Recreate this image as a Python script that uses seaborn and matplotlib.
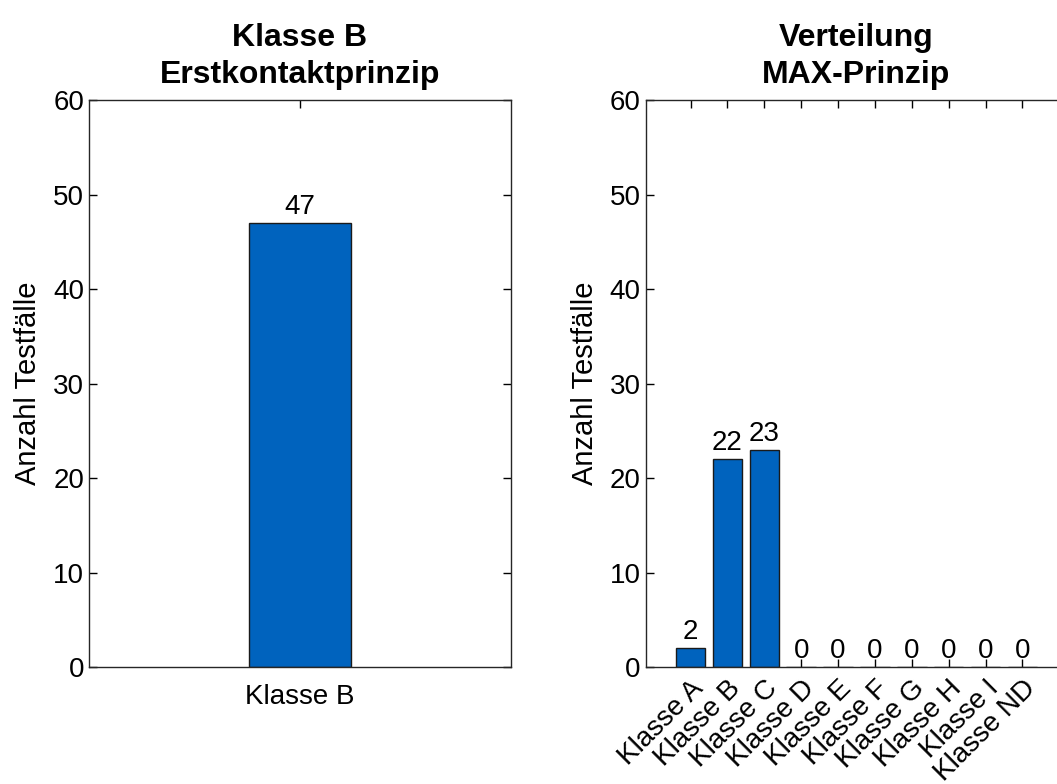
import matplotlib
matplotlib.use("Agg")
import matplotlib.pyplot as plt
import seaborn as sns
import pandas as pd

# Data
left_categories = ["Klasse B"]
left_counts = [47]

right_categories = ["Klasse A", "Klasse B", "Klasse C", "Klasse D", "Klasse E",
                    "Klasse F", "Klasse G", "Klasse H", "Klasse I", "Klasse ND"]
right_counts = [2, 22, 23, 0, 0, 0, 0, 0, 0, 0]

y_ticks = [0, 10, 20, 30, 40, 50, 60]

bar_color = "#0063BE"
edge_color = "#1a1a1a"

sns.set_style("ticks")
plt.rcParams["font.family"] = ["Liberation Sans", "DejaVu Sans"]
plt.rcParams["axes.linewidth"] = 1.0
plt.rcParams["text.color"] = "black"
plt.rcParams["axes.labelcolor"] = "black"
plt.rcParams["xtick.color"] = "black"
plt.rcParams["ytick.color"] = "black"

fig = plt.figure(figsize=(10.57, 7.84), dpi=100)
ax1 = fig.add_axes([0.0842, 0.1492, 0.3992, 0.7232])
ax2 = fig.add_axes([0.6107, 0.1492, 0.3992, 0.7232])

df_left = pd.DataFrame({"Klasse": left_categories, "Anzahl": left_counts})
df_right = pd.DataFrame({"Klasse": right_categories, "Anzahl": right_counts})

sns.barplot(data=df_left, x="Klasse", y="Anzahl", ax=ax1, color=bar_color,
            edgecolor=edge_color, linewidth=1.0, width=0.8, saturation=1)
sns.barplot(data=df_right, x="Klasse", y="Anzahl", ax=ax2, color=bar_color,
            edgecolor=edge_color, linewidth=1.0, width=0.8, saturation=1)

ax1.set_xlim(-1.67, 1.67)
ax2.set_xlim(-1.22, 10.22)

for ax in (ax1, ax2):
    ax.set_ylim(0, 60)
    ax.set_yticks(y_ticks)
    ax.set_xlabel("")
    ax.set_ylabel("Anzahl Testfälle", fontsize=21, labelpad=8)
    ax.tick_params(axis="both", direction="in", length=6, width=1,
                   labelsize=20, top=True, right=True, colors="black")
    ax.tick_params(axis="x", pad=12)
    for s in ax.spines.values():
        s.set_visible(True)
        s.set_color("#262626")
    for c in ax.containers:
        ax.bar_label(c, fontsize=20, padding=2, color="black")

ax1.set_title("Klasse B\nErstkontaktprinzip", fontsize=23, fontweight="bold",
              pad=12, linespacing=1.3, color="black")
ax2.set_title("Verteilung\nMAX-Prinzip", fontsize=23, fontweight="bold",
              pad=12, linespacing=1.3, color="black")

ax2.tick_params(axis="x", pad=6)
plt.setp(ax2.get_xticklabels(), rotation=45, ha="right", rotation_mode="anchor",
         fontsize=20)

fig.savefig("out.png", dpi=100)
